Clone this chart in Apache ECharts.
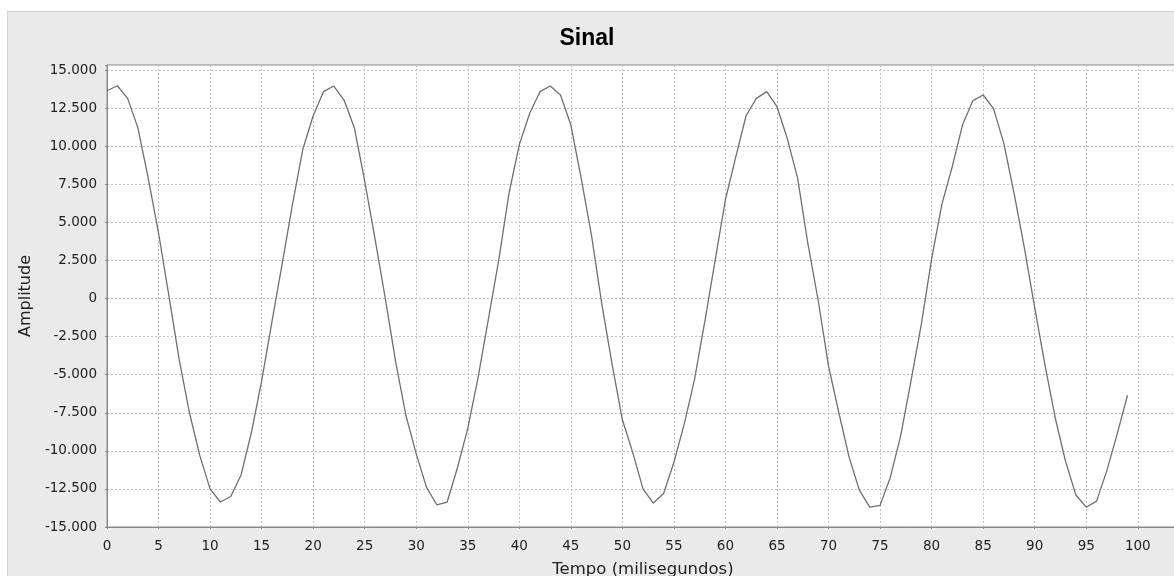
<!DOCTYPE html>
<html>
<head>
<meta charset="utf-8">
<script src="https://cdn.jsdelivr.net/npm/echarts@6/dist/echarts.min.js"></script>
<style>
html,body{margin:0;padding:0;background:#ffffff;}
#chart{width:1174px;height:576px;}
</style>
</head>
<body>
<div id="chart"></div>
<script>
// Tempo (ms) 0..99
const tempo = [
  0,1,2,3,4,5,6,7,8,9,10,11,12,13,14,15,16,17,18,19,
  20,21,22,23,24,25,26,27,28,29,30,31,32,33,34,35,36,37,38,39,
  40,41,42,43,44,45,46,47,48,49,50,51,52,53,54,55,56,57,58,59,
  60,61,62,63,64,65,66,67,68,69,70,71,72,73,74,75,76,77,78,79,
  80,81,82,83,84,85,86,87,88,89,90,91,92,93,94,95,96,97,98,99
];
const amplitude = [
  13640,13970,13140,11200,7900,4300,200,-4000,-7500,-10300,
  -12500,-13360,-13000,-11600,-8830,-5420,-1530,2300,6200,9800,
  12000,13580,13950,13030,11200,7700,3930,0,-4140,-7680,
  -10200,-12400,-13540,-13360,-11110,-8530,-5200,-1350,2500,6910,
  10100,12150,13580,13950,13360,11390,7900,4170,-330,-4310,
  -7960,-10100,-12500,-13430,-12800,-10750,-8250,-5310,-1490,2500,
  6500,9300,12000,13140,13580,12590,10500,7900,3580,-130,
  -4440,-7500,-10430,-12600,-13690,-13580,-11730,-9000,-5400,-1700,
  2600,6200,8650,11400,12990,13360,12480,10200,6900,3330,
  -600,-4380,-7860,-10710,-12900,-13700,-13300,-11300,-8900,-6350
];
const titleText = 'Sinal';
const xName = 'Tempo (milisegundos)';
const yName = 'Amplitude';

function fmtThousands(v){
  const s = Math.abs(Math.round(v)).toString().replace(/\B(?=(\d{3})+(?!\d))/g,'.');
  return (v < 0 ? '-' : '') + s;
}

const chart = echarts.init(document.getElementById('chart'), null, {renderer:'canvas'});
const points = tempo.map((t,i)=>[t, amplitude[i]]);
const labelFont = 'DejaVu Sans';
chart.setOption({
  backgroundColor: '#ffffff',
  animation: false,
  graphic: [{
    type: 'rect', z: -10, silent: true,
    shape: {x: 7.5, y: 11.5, width: 1200, height: 600},
    style: {fill: '#eaeaea', stroke: '#cfcfcf', lineWidth: 1}
  }],
  title: {
    text: titleText, left: 'center', top: 22,
    textStyle: {fontFamily: 'Liberation Sans', fontWeight: 'bold', fontSize: 23, color: '#000'}
  },
  grid: {left: 107, top: 65, right: -5, bottom: 49, outerBoundsMode: 'none', containLabel: false,
    backgroundColor: '#ffffff', show: true, borderColor: '#888888', borderWidth: 1},
  xAxis: {
    type: 'value', min: 0, max: 104, interval: 5,
    name: xName, nameLocation: 'middle', nameGap: 34,
    nameTextStyle: {fontFamily: labelFont, fontSize: 16.5, color: '#222'},
    axisLine: {show: true, onZero: false, lineStyle: {color: '#888888'}},
    axisTick: {show: true, length: 2, lineStyle: {color: '#888888'}},
    axisLabel: {fontFamily: labelFont, fontSize: 13.5, color: '#222', margin: 12,
      formatter: v => (v % 5 === 0 && v <= 100) ? String(v) : ''},
    splitLine: {show: true, lineStyle: {color: '#c4c4c4', type: [2,2], width: 1}}
  },
  yAxis: {
    type: 'value', min: -15000, max: 15330, interval: 2500,
    name: yName, nameLocation: 'middle', nameGap: 72, nameRotate: 90,
    nameTextStyle: {fontFamily: labelFont, fontSize: 16, color: '#222'},
    axisLine: {show: true, onZero: false, lineStyle: {color: '#888888'}},
    axisTick: {show: true, length: 2, lineStyle: {color: '#888888'}},
    axisLabel: {fontFamily: labelFont, fontSize: 13.5, color: '#222', margin: 10,
      formatter: v => v > 15000 ? '' : fmtThousands(v)},
    splitLine: {show: true, lineStyle: {color: '#c4c4c4', type: [2,2], width: 1}}
  },
  series: [{
    type: 'line', data: points, showSymbol: false, symbol: 'none',
    lineStyle: {color: '#6f6f6f', width: 1.3},
    clip: true
  }]
});
</script>
</body>
</html>
